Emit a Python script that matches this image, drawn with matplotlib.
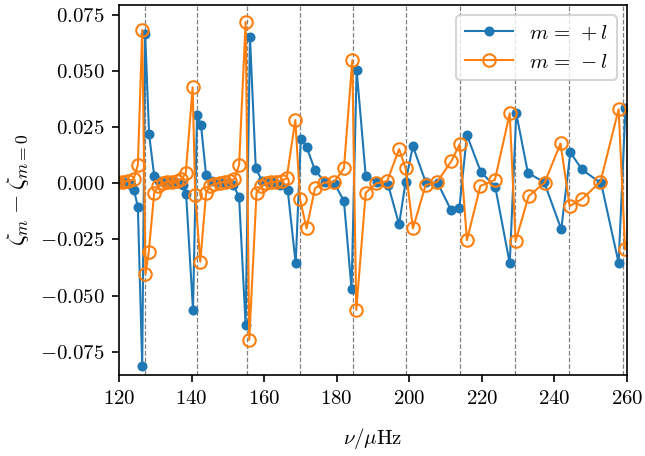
import matplotlib
matplotlib.use("Agg")
import matplotlib.pyplot as plt

plt.rcParams["font.family"] = "serif"
plt.rcParams["font.serif"] = ["cmr10"]
plt.rcParams["mathtext.fontset"] = "cm"
plt.rcParams["axes.formatter.use_mathtext"] = True
plt.rcParams["font.size"] = 10

# m = +l
nu_plus = [118.8, 120.0, 121.2, 122.4, 123.3, 124.1, 125.2, 126.4, 127.2, 128.3,
           129.7, 131.0, 132.4, 133.8, 135.2, 136.6, 137.6, 138.5, 140.4, 141.5,
           142.6, 144.0, 145.5, 147.0, 148.5, 150.0, 151.5, 153.1, 154.9, 156.1,
           157.7, 159.4, 161.0, 162.6, 164.3, 166.5, 168.7, 170.1, 171.7, 174.0,
           176.7, 179.5, 182.0, 184.1, 185.5, 188.0, 191.0, 194.2, 197.2, 199.0,
           201.0, 204.5, 207.9, 211.5, 213.8, 215.9, 219.7, 223.7, 227.7, 229.5,
           232.7, 237.2, 241.9, 244.4, 247.6, 252.9, 257.7, 259.6]
dz_plus = [0.0005, 0.0005, 0.0004, 0.0003, -0.0005, -0.0028, -0.0104, -0.0816, 0.0668, 0.0218,
           0.0033, 0.0012, 0.0008, 0.0006, 0.0005, 0.0002, -0.0005, -0.0049, -0.0565, 0.0304,
           0.0260, 0.0037, 0.0012, 0.0008, 0.0006, 0.0003, -0.0008, -0.0060, -0.0631, 0.0653,
           0.0067, 0.0012, 0.0008, 0.0005, -0.0008, -0.0030, -0.0357, 0.0196, 0.0163, 0.0059,
           0.0007, -0.0003, -0.0079, -0.0471, 0.0505, 0.0034, 0.0007, -0.0008, -0.0183, 0.0007,
           0.0166, 0.0007, 0.0000, -0.0119, -0.0110, 0.0215, 0.0052, -0.0015, -0.0357, 0.0312,
           0.0047, 0.0005, -0.0205, 0.0138, 0.0062, 0.0000, -0.0354, 0.0334]

# m = -l
nu_minus = [118.8, 119.8, 121.2, 122.6, 124.0, 125.2, 126.4, 127.3, 128.2, 129.7,
            130.8, 132.0, 133.3, 134.6, 135.9, 137.2, 138.4, 140.3, 141.0, 142.4,
            144.0, 145.0, 146.3, 147.7, 149.1, 150.5, 151.8, 153.1, 154.9, 155.9,
            157.9, 159.2, 160.6, 162.0, 163.4, 164.8, 166.2, 168.6, 169.9, 171.7,
            174.0, 176.5, 179.3, 182.0, 184.3, 185.4, 188.0, 190.9, 193.9, 197.2,
            199.0, 201.0, 204.5, 207.7, 211.6, 213.9, 215.9, 219.6, 223.6, 227.7,
            229.3, 232.9, 237.3, 241.7, 244.2, 247.6, 252.7, 257.7, 259.5]
dz_minus = [0.0004, 0.0005, 0.0008, 0.0010, 0.0018, 0.0082, 0.0683, -0.0404, -0.0305, -0.0042,
            -0.0012, 0.0000, 0.0005, 0.0008, 0.0010, 0.0018, 0.0045, 0.0428, -0.0052, -0.0349,
            -0.0045, -0.0012, -0.0002, 0.0003, 0.0006, 0.0010, 0.0020, 0.0082, 0.0720, -0.0698,
            -0.0042, -0.0012, 0.0000, 0.0005, 0.0008, 0.0012, 0.0022, 0.0282, -0.0071, -0.0201,
            -0.0022, 0.0003, 0.0007, 0.0067, 0.0549, -0.0565, -0.0042, 0.0000, 0.0010, 0.0153,
            0.0067, -0.0201, -0.0008, 0.0007, 0.0099, 0.0175, -0.0253, -0.0011, 0.0015, 0.0312,
            -0.0257, -0.0057, 0.0003, 0.0178, -0.0101, -0.0070, 0.0007, 0.0330, -0.0294]

# l = 1 mode frequencies (dashed guides)
nu_l1 = [127.15, 141.4, 155.4, 169.85, 184.55, 199.2, 214.1, 229.05, 244.0, 258.9]

fig, ax = plt.subplots(figsize=(4.3, 3.04), dpi=150)
fig.subplots_adjust(left=0.1845, right=0.972, top=0.989, bottom=0.1776)

for nu in nu_l1:
    ax.axvline(nu, color="gray", ls="--", lw=0.6, zorder=0)

ax.plot(nu_plus, dz_plus, "-o", color="#1f77b4", lw=1.0, ms=3.8, label=r"$m\,=\,+l$")
ax.plot(nu_minus, dz_minus, "-o", color="#ff7f0e", lw=1.0, ms=6, mfc="none",
        mew=1.0, label=r"$m\,=\,-l$")

ax.set_xlim(120, 260)
ax.set_ylim(-0.0854, 0.0795)
ax.set_xticks([120, 140, 160, 180, 200, 220, 240, 260])
ax.set_yticks([-0.075, -0.05, -0.025, 0.0, 0.025, 0.05, 0.075])
ax.set_xlabel(r"$\nu/\mu$Hz", labelpad=9)
ax.set_ylabel(r"$\zeta_m - \zeta_{m=0}$", fontsize=12)
ax.legend(loc="upper right", fontsize=10, handlelength=2.3)

fig.savefig("out.png", dpi=150)
